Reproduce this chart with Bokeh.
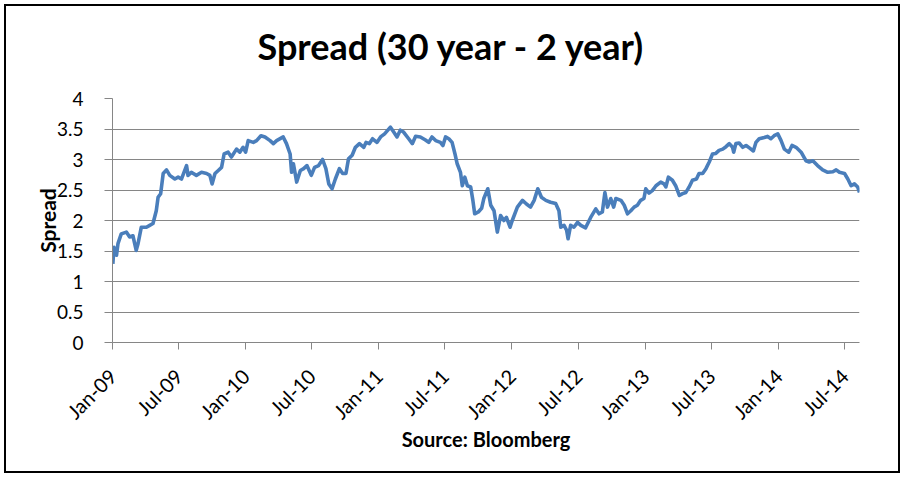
import math
import pandas as pd
from bokeh.plotting import figure
from bokeh.models import Range1d, MonthsTicker, DatetimeTickFormatter, FixedTicker, Title
from bokeh.embed import file_html
from bokeh.resources import INLINE

dates = [
    "2009-01-02", "2009-01-05", "2009-01-12", "2009-01-16", "2009-01-25", "2009-02-08", "2009-02-17", "2009-02-26",
    "2009-03-07", "2009-03-12", "2009-03-21", "2009-04-04", "2009-04-13", "2009-04-22", "2009-05-01", "2009-05-06",
    "2009-05-13", "2009-05-20", "2009-05-29", "2009-06-07", "2009-06-21", "2009-06-30", "2009-07-09", "2009-07-23",
    "2009-07-27", "2009-08-05", "2009-08-19", "2009-09-02", "2009-09-16", "2009-09-25", "2009-10-01", "2009-10-09",
    "2009-10-18", "2009-10-27", "2009-11-03", "2009-11-14", "2009-11-23", "2009-12-07", "2009-12-16", "2009-12-25",
    "2010-01-01", "2010-01-08", "2010-01-22", "2010-01-31", "2010-02-12", "2010-02-23", "2010-03-09", "2010-03-18",
    "2010-03-27", "2010-04-14", "2010-04-23", "2010-05-03", "2010-05-07", "2010-05-12", "2010-05-21", "2010-05-31",
    "2010-06-09", "2010-06-18", "2010-06-30", "2010-07-09", "2010-07-20", "2010-07-31", "2010-08-09", "2010-08-17",
    "2010-08-26", "2010-09-04", "2010-09-15", "2010-09-24", "2010-10-03", "2010-10-10", "2010-10-20", "2010-10-29",
    "2010-11-09", "2010-11-21", "2010-11-27", "2010-12-06", "2010-12-15", "2010-12-27", "2011-01-06", "2011-01-17",
    "2011-02-02", "2011-02-11", "2011-02-20", "2011-03-01", "2011-03-10", "2011-03-24", "2011-04-03", "2011-04-12",
    "2011-04-25", "2011-05-09", "2011-05-18", "2011-05-27", "2011-06-06", "2011-06-19", "2011-06-26", "2011-07-03",
    "2011-07-12", "2011-07-21", "2011-07-29", "2011-08-04", "2011-08-13", "2011-08-18", "2011-08-25", "2011-09-01",
    "2011-09-10", "2011-09-16", "2011-09-21", "2011-10-01", "2011-10-10", "2011-10-16", "2011-10-27", "2011-11-04",
    "2011-11-13", "2011-11-22", "2011-12-01", "2011-12-10", "2011-12-17", "2011-12-27", "2012-01-02", "2012-01-16",
    "2012-01-30", "2012-02-10", "2012-02-21", "2012-03-02", "2012-03-12", "2012-03-22", "2012-04-03", "2012-04-16",
    "2012-04-30", "2012-05-09", "2012-05-14", "2012-05-23", "2012-05-30", "2012-06-03", "2012-06-10", "2012-06-19",
    "2012-06-29", "2012-07-08", "2012-07-21", "2012-08-04", "2012-08-18", "2012-08-27", "2012-09-05", "2012-09-12",
    "2012-09-19", "2012-09-28", "2012-10-06", "2012-10-12", "2012-10-26", "2012-11-04", "2012-11-13", "2012-11-22",
    "2012-12-01", "2012-12-10", "2012-12-19", "2012-12-28", "2013-01-02", "2013-01-11", "2013-01-20", "2013-01-30",
    "2013-02-12", "2013-02-21", "2013-02-26", "2013-03-05", "2013-03-16", "2013-03-25", "2013-04-04", "2013-04-13",
    "2013-04-22", "2013-05-01", "2013-05-10", "2013-05-21", "2013-05-28", "2013-06-07", "2013-06-16", "2013-06-25",
    "2013-07-04", "2013-07-13", "2013-07-22", "2013-08-01", "2013-08-10", "2013-08-19", "2013-08-28", "2013-08-31",
    "2013-09-06", "2013-09-15", "2013-09-25", "2013-10-04", "2013-10-13", "2013-10-24", "2013-10-31", "2013-11-09",
    "2013-11-23", "2013-12-02", "2013-12-11", "2013-12-20", "2013-12-30", "2014-01-08", "2014-01-17", "2014-01-29",
    "2014-02-07", "2014-02-18", "2014-03-04", "2014-03-17", "2014-03-26", "2014-04-05", "2014-04-18", "2014-05-02",
    "2014-05-16", "2014-05-30", "2014-06-08", "2014-06-17", "2014-07-01", "2014-07-10", "2014-07-19", "2014-07-28",
    "2014-08-06", "2014-08-11",
]

spread = [
    1.29, 1.56, 1.43, 1.62, 1.78, 1.81, 1.73, 1.75,
    1.51, 1.62, 1.89, 1.89, 1.92, 1.95, 2.16, 2.38,
    2.44, 2.77, 2.83, 2.74, 2.68, 2.71, 2.68, 2.90,
    2.74, 2.79, 2.74, 2.79, 2.77, 2.74, 2.60, 2.77,
    2.82, 2.87, 3.09, 3.12, 3.04, 3.17, 3.12, 3.20,
    3.12, 3.31, 3.28, 3.31, 3.39, 3.37, 3.31, 3.26,
    3.31, 3.37, 3.26, 3.09, 2.79, 2.93, 2.63, 2.82,
    2.85, 2.90, 2.74, 2.87, 2.90, 3.00, 2.85, 2.60,
    2.52, 2.68, 2.85, 2.77, 2.77, 3.01, 3.07, 3.20,
    3.26, 3.20, 3.28, 3.26, 3.34, 3.28, 3.37, 3.42,
    3.53, 3.45, 3.37, 3.48, 3.45, 3.34, 3.26, 3.38,
    3.37, 3.32, 3.28, 3.37, 3.31, 3.28, 3.23, 3.37,
    3.34, 3.28, 3.09, 2.93, 2.79, 2.57, 2.71, 2.57,
    2.55, 2.33, 2.11, 2.14, 2.20, 2.36, 2.52, 2.25,
    2.16, 1.81, 2.08, 2.00, 2.05, 1.89, 2.00, 2.22,
    2.33, 2.27, 2.22, 2.33, 2.52, 2.38, 2.33, 2.30,
    2.28, 2.16, 1.89, 1.92, 1.84, 1.70, 1.92, 1.89,
    1.97, 1.92, 1.88, 2.05, 2.19, 2.11, 2.14, 2.46,
    2.22, 2.36, 2.22, 2.36, 2.33, 2.25, 2.11, 2.16,
    2.22, 2.25, 2.33, 2.36, 2.52, 2.45, 2.49, 2.57,
    2.63, 2.60, 2.55, 2.71, 2.66, 2.57, 2.41, 2.44,
    2.46, 2.55, 2.66, 2.68, 2.77, 2.77, 2.85, 2.96,
    3.09, 3.10, 3.15, 3.17, 3.21, 3.26, 3.20, 3.12,
    3.26, 3.27, 3.20, 3.23, 3.19, 3.14, 3.28, 3.34,
    3.36, 3.38, 3.34, 3.39, 3.42, 3.31, 3.17, 3.12,
    3.23, 3.20, 3.12, 2.98, 2.96, 2.98, 2.90, 2.83,
    2.79, 2.80, 2.83, 2.79, 2.77, 2.68, 2.57, 2.60,
    2.55, 2.46,
]

x_start = "2009-01-01"
x_end = "2014-08-11"
y_ticks = [0, 0.5, 1, 1.5, 2, 2.5, 3, 3.5, 4]
y_tick_labels = ["0", "0.5", "1", "1.5", "2", "2.5", "3", "3.5", "4"]

title_text = "Spread (30 year - 2 year)"
y_label_text = "Spread"
source_text = "Source: Bloomberg"

FONT = "Lato"
GRID = "#868686"

x = pd.to_datetime(dates)

p = figure(
    width=892, height=465,
    x_axis_type="datetime",
    x_range=Range1d(pd.Timestamp(x_start), pd.Timestamp(x_end)),
    y_range=Range1d(0, 4),
    output_backend="svg", toolbar_location=None,
    min_border_left=106, min_border_right=39, min_border_top=92, min_border_bottom=129,
)
p.styles = {"outline": "2px solid black", "outline-offset": "0px", "margin": "6px 0 0 6px"}
p.outline_line_color = None
p.background_fill_color = "white"
p.border_fill_color = "white"

p.line(x, spread, line_color="#4a7ebb", line_width=3.6, line_join="round")

# spacer between title and plot frame (inner "above" panel)
p.add_layout(Title(text=" ", text_font_size="1px", standoff=28), "above")

# title (outermost "above" panel)
p.title.text = title_text
p.title.text_font = FONT
p.title.text_font_style = "bold"
p.title.text_font_size = "36px"
p.title.text_color = "#000000"
p.title.align = "left"
p.title.offset = 145
p.title.standoff = 0

# grid
p.xgrid.grid_line_color = None
p.ygrid.grid_line_color = GRID
p.ygrid.grid_line_width = 1
p.yaxis.ticker = FixedTicker(ticks=y_ticks)
p.yaxis.major_label_overrides = dict(zip(y_ticks, y_tick_labels))

# x axis
p.xaxis.ticker = MonthsTicker(months=[0, 6])
p.xaxis.formatter = DatetimeTickFormatter(months="%b-%y", days="%b-%y", years="%b-%y")
p.xaxis.major_label_orientation = math.pi / 4

for ax in (p.xaxis[0], p.yaxis[0]):
    ax.axis_line_color = GRID
    ax.major_tick_line_color = GRID
    ax.minor_tick_line_color = None
    ax.major_tick_in = 0
    ax.major_label_text_font = FONT
    ax.major_label_text_color = "#000000"
    ax.axis_label_text_font = FONT
    ax.axis_label_text_font_style = "bold"
    ax.axis_label_text_color = "#000000"

p.yaxis.major_tick_out = 8
p.xaxis.major_tick_out = 7
p.yaxis.major_label_text_font_size = "19px"
p.xaxis.major_label_text_font_size = "20px"
p.yaxis.major_label_standoff = 21
p.xaxis.major_label_standoff = 23

p.yaxis.axis_label = y_label_text
p.yaxis.axis_label_text_font_size = "21px"
p.yaxis.axis_label_standoff = -6
p.xaxis.axis_label = source_text
p.xaxis.axis_label_text_font_size = "20px"
p.xaxis.axis_label_standoff = -8

open("out.html", "w").write(file_html(p, INLINE))
